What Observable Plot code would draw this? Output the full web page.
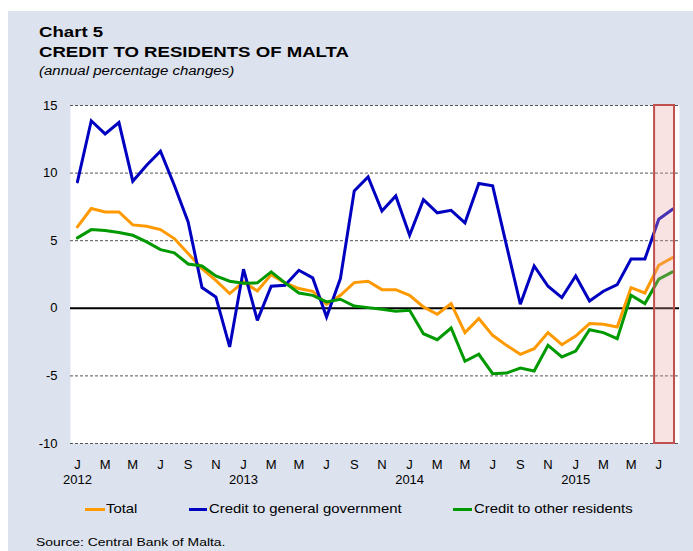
<!DOCTYPE html>
<html>
<head>
<meta charset="utf-8">
<script src="https://cdn.jsdelivr.net/npm/d3@7"></script>
<script src="https://cdn.jsdelivr.net/npm/@observablehq/plot@0.6"></script>
<style>
  html, body { margin: 0; padding: 0; background: #fff; }
  #wrap { position: relative; width: 693px; height: 551px; overflow: hidden; font-family: "Liberation Sans", Arial, sans-serif; color: #000; }
  #bg { position: absolute; left: 8px; top: 11px; right: 0; bottom: 0; background: #dce2ee; }
  .t { position: absolute; white-space: nowrap; line-height: 1; transform-origin: 0 0; transform: scaleX(1.2); }
  #chart { position: absolute; left: 0; top: 0; }
  .sw { position: absolute; height: 3px; }
</style>
</head>
<body>
<div id="wrap">
  <div id="bg"></div>
  <div class="t" style="left:39px;top:23.6px;font-size:15.5px;font-weight:bold;">Chart 5</div>
  <div class="t" style="left:39px;top:43.6px;font-size:15.5px;font-weight:bold;">CREDIT TO RESIDENTS OF MALTA</div>
  <div class="t" style="left:39px;top:64.9px;font-size:12.5px;font-style:italic;">(annual percentage changes)</div>
  <div id="chart"></div>
  <div id="legend"></div>
  <div class="t" style="left:36px;top:536px;font-size:11.6px;">Source: Central Bank of Malta.</div>
</div>
<script>
// Categories: monthly, January 2012 to August 2015
const months = d3.utcMonth.range(new Date(Date.UTC(2012, 0, 1)), new Date(Date.UTC(2015, 8, 1)));
const monthLetters = ["J","F","M","A","M","J","J","A","S","O","N","D"];
const yTicks = [-10, -5, 0, 5, 10, 15];

const seriesNames = ["Total", "Credit to general government", "Credit to other residents"];
const seriesColors = ["#ff9900", "#0000c0", "#009900"];

const total = [
  6.02, 7.38, 7.13, 7.13, 6.17, 6.07, 5.82, 5.16, 4.05, 2.94, 2.07, 1.09,
  1.95, 1.28, 2.49, 1.88, 1.46, 1.26, 0.30, 0.96, 1.90, 2.00, 1.38, 1.38,
  0.96, 0.10, -0.44, 0.35, -1.80, -0.76, -2.00, -2.74, -3.40, -2.99, -1.80, -2.69,
  -2.05, -1.13, -1.18, -1.38, 1.53, 1.13, 3.18, 3.75
];
const government = [
  9.35, 13.87, 12.90, 13.74, 9.40, 10.58, 11.62, 9.10, 6.39, 1.53, 0.84, -2.86,
  2.89, -0.89, 1.63, 1.70, 2.81, 2.25, -0.64, 2.20, 8.68, 9.72, 7.20, 8.31,
  5.40, 8.04, 7.06, 7.25, 6.32, 9.23, 9.06, 4.66, 0.30, 3.13, 1.63, 0.79,
  2.39, 0.54, 1.26, 1.75, 3.65, 3.65, 6.59, 7.33
];
const otherResidents = [
  5.21, 5.82, 5.75, 5.60, 5.40, 4.91, 4.34, 4.10, 3.28, 3.13, 2.39, 2.00,
  1.85, 1.88, 2.69, 1.88, 1.13, 0.96, 0.47, 0.67, 0.17, 0.05, -0.07, -0.22,
  -0.15, -1.88, -2.32, -1.46, -3.92, -3.40, -4.84, -4.79, -4.42, -4.64, -2.74, -3.60,
  -3.16, -1.58, -1.80, -2.25, 0.96, 0.35, 2.15, 2.69
];
// highlighted (latest) months
const highlight = ["2015-07", "2015-08"];

const values = [total, government, otherResidents];
const rows = [];
values.forEach((arr, s) => arr.forEach((v, i) => rows.push({i, v, s: seriesNames[s]})));

const key = d => d3.utcFormat("%Y-%m")(d);
const hiIdx = highlight.map(h => months.findIndex(m => key(m) === h));
const hiBox = [{x1: hiIdx[0] - 0.3, x2: hiIdx[hiIdx.length - 1] + 0.14}];

const fmtX = i => {
  const d = months[i];
  if (!d) return "";
  const l = monthLetters[d.getUTCMonth()];
  return d.getUTCMonth() === 0 ? l + "\n" + d.getUTCFullYear() : l;
};

const chart = Plot.plot({
  width: 693,
  height: 500,
  marginLeft: 70,
  marginRight: 14,
  marginTop: 105,
  marginBottom: 57,
  style: {background: "transparent", fontFamily: "'Liberation Sans', Arial, sans-serif", fontSize: "13px", color: "#000", overflow: "visible"},
  x: {type: "linear", domain: [-0.5, months.length - 0.5], label: null},
  y: {domain: [-10, 15], label: null},
  color: {domain: seriesNames, range: seriesColors},
  marks: [
    Plot.frame({fill: "white", stroke: "none"}),
    Plot.ruleY(yTicks.filter(d => d !== 0), {stroke: "#555", strokeWidth: 1, strokeDasharray: "3,2"}),
    Plot.ruleY([0], {stroke: "#000", strokeWidth: 2}),
    Plot.line(rows, {x: "i", y: "v", z: "s", stroke: "s", strokeWidth: 3, strokeLinejoin: "miter", strokeMiterlimit: 3}),
    Plot.rect(hiBox, {x1: "x1", x2: "x2", y1: () => -10, y2: () => 15, fill: "rgb(233,160,160)", fillOpacity: 0.3, stroke: "#c0504d", strokeWidth: 2}),
    Plot.axisY({ticks: yTicks, tickSize: 0, tickPadding: 13, tickFormat: d => String(d), fontSize: 13, label: null}),
    Plot.axisX({ticks: d3.range(0, months.length, 2), tickSize: 0, tickPadding: 14, tickFormat: fmtX, lineHeight: 1.2, fontSize: 13, label: null})
  ]
});
document.getElementById("chart").appendChild(chart);

// Legend
const legendItems = [
  {name: seriesNames[0], color: seriesColors[0], sx: 85, sw: 20, tx: 106},
  {name: seriesNames[1], color: seriesColors[1], sx: 189, sw: 18, tx: 209},
  {name: seriesNames[2], color: seriesColors[2], sx: 453, sw: 19, tx: 474}
];
const lg = document.getElementById("legend");
legendItems.forEach(it => {
  const s = document.createElement("div");
  s.className = "sw";
  s.style.left = it.sx + "px"; s.style.top = "507.5px"; s.style.width = it.sw + "px"; s.style.background = it.color;
  lg.appendChild(s);
  const t = document.createElement("div");
  t.className = "t";
  t.style.left = it.tx + "px"; t.style.top = "502.5px"; t.style.fontSize = "12.4px";
  t.textContent = it.name;
  lg.appendChild(t);
});
</script>
</body>
</html>
